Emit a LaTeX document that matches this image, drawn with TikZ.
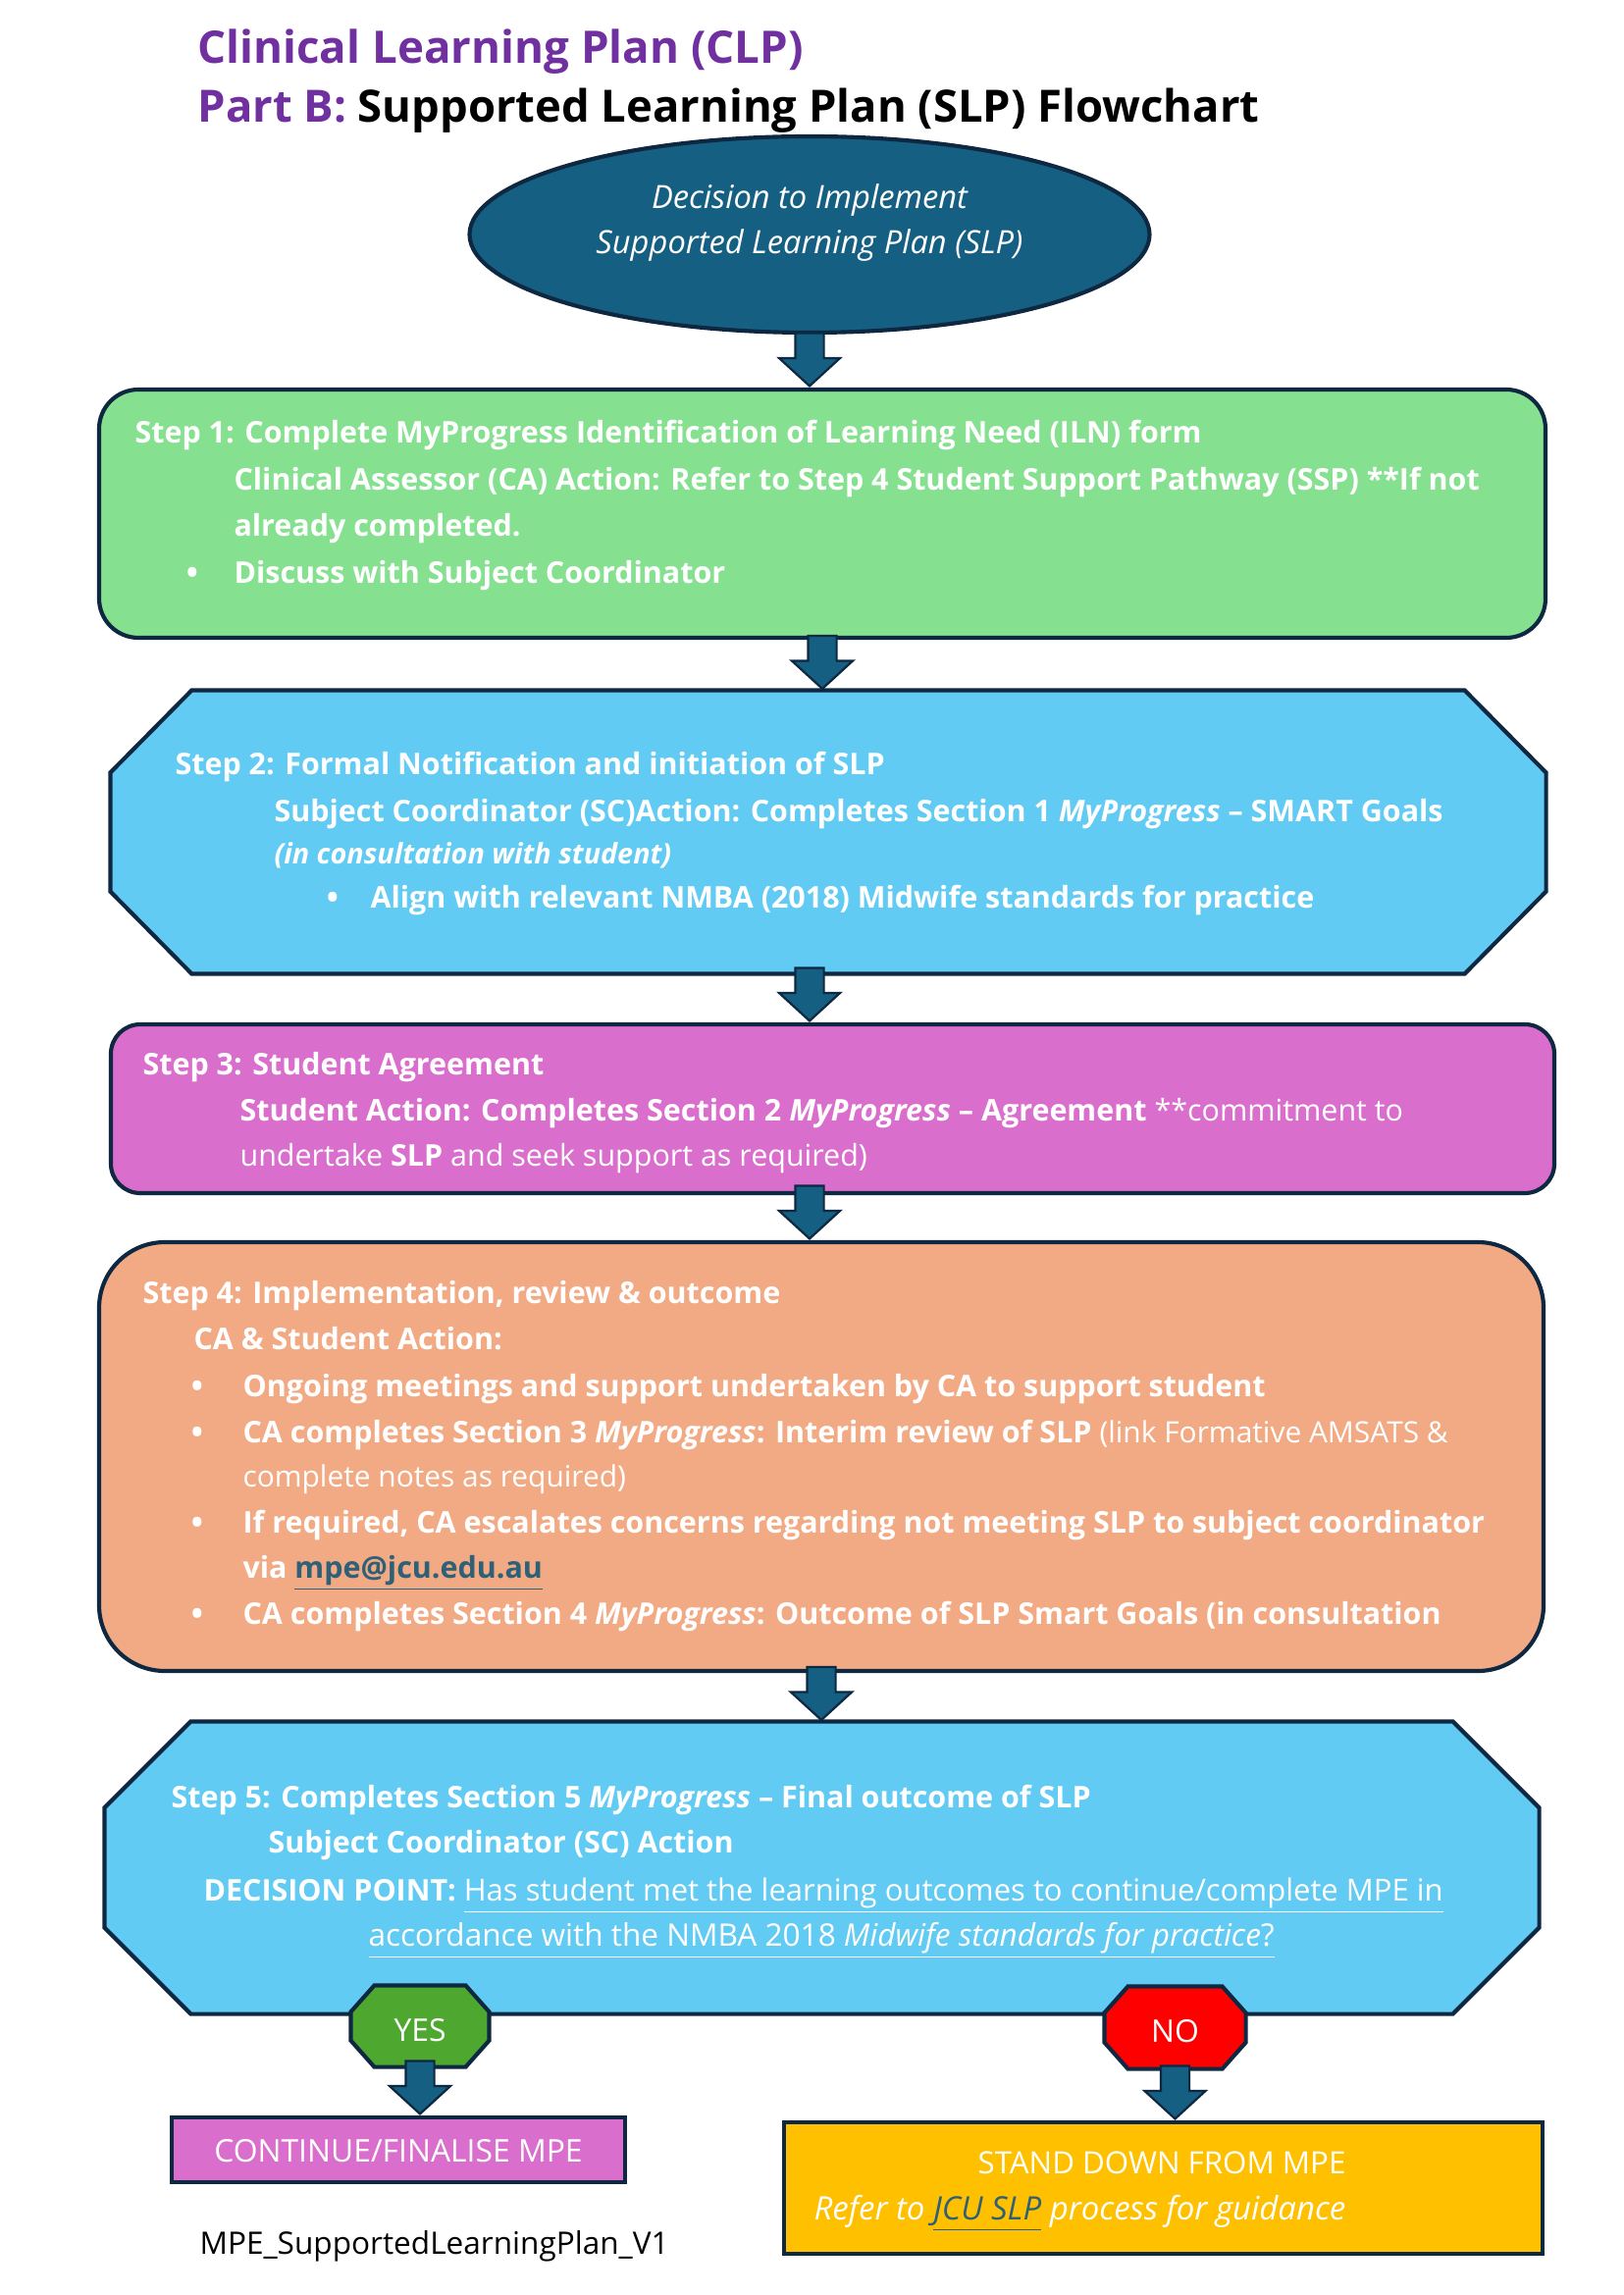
\documentclass[tikz,border=0pt]{standalone}
\usepackage{fontspec}
\setmainfont{Open Sans}
\usepackage{tikz}
\usetikzlibrary{shapes.geometric, shapes.arrows, arrows.meta, positioning, calc}
\definecolor{navyline}{RGB}{14,40,65}
\definecolor{arrowblue}{RGB}{21,96,130}
\definecolor{titlepurple}{RGB}{112,48,160}
\definecolor{stepgreen}{RGB}{133,224,143}
\definecolor{stepblue}{RGB}{97,203,243}
\definecolor{steporchid}{RGB}{217,110,205}
\definecolor{stepsalmon}{RGB}{242,170,132}
\definecolor{yesgreen}{RGB}{78,167,46}
\definecolor{nored}{RGB}{255,0,0}
\definecolor{standamber}{RGB}{255,192,0}
\definecolor{linkteal}{RGB}{46,96,119}
\newcommand{\pxu}{0.12696mm}
% octagon round a named node: node, chamfer x, chamfer y
\newcommand{\octpath}[3]{([xshift=#2]#1.north west) -- ([xshift=-#2]#1.north east) -- ([yshift=-#3]#1.north east) -- ([yshift=#3]#1.south east) -- ([xshift=-#2]#1.south east) -- ([xshift=#2]#1.south west) -- ([yshift=#3]#1.south west) -- ([yshift=-#3]#1.north west) -- cycle}
\tikzset{
  frame/.style={draw=navyline, line width=1.5pt},
  stepbox/.style={frame, inner sep=0pt},
  hidebox/.style={inner sep=0pt},
  steptxt/.style={anchor=base west, inner sep=0pt, text=white,
    font=\bfseries\fontsize{11}{13}\selectfont},
  bul/.style={steptxt, font=\fontsize{15}{16}\selectfont},
  plaintxt/.style={anchor=base, inner sep=0pt, text=white,
    font=\fontsize{11.5}{14}\selectfont},
  blockarr/.style={single arrow, draw=navyline, fill=arrowblue, line width=0.8pt,
    rotate=-90, anchor=tip, inner xsep=0pt, inner ysep=13.5*\pxu, minimum height=54*\pxu,
    single arrow head extend=16.5*\pxu, single arrow tip angle=95}
}
\begin{document}
\begin{tikzpicture}[x=0.12696mm, y=-0.12696mm]
    \useasboundingbox (0,0) rectangle (1654,2339);
    % Title
    \node[anchor=base west, inner sep=0pt, text=titlepurple, font=\bfseries\fontsize{16.5}{18}\selectfont] (title1) at (201,65) {Clinical Learning Plan (CLP)};
    \node[anchor=base west, inner sep=0pt, font=\bfseries\fontsize{16.4}{18}\selectfont] (title2) at (201,125) {\textcolor{titlepurple}{Part B:} Supported Learning Plan (SLP) Flowchart};
    % Start
    \node[ellipse, frame, fill=arrowblue, minimum width=693*\pxu, minimum height=200*\pxu, inner sep=0pt] (start) at (825,239) {};
    \node[plaintxt, font=\itshape\fontsize{11.8}{14}\selectfont] (start1) at (825,213) {Decision to Implement};
    \node[plaintxt, font=\itshape\fontsize{11.8}{14}\selectfont] (start2) at (825,259) {Supported Learning Plan (SLP)};
    % Step 1
    \node[stepbox, fill=stepgreen, rounded corners=40*\pxu, minimum width=1474*\pxu, minimum height=253*\pxu] (step1) at (838,523.5) {};
    \node[steptxt] (s1t) at (137,452) {Step 1: Complete MyProgress Identification of Learning Need (ILN) form};
    \node[steptxt] (s1a) at (238,500) {Clinical Assessor (CA) Action: Refer to Step 4 Student Support Pathway (SSP) **If not};
    \node[steptxt] (s1b) at (238,547) {already completed.};
    \node[bul] (s1d) at (188,599) {\textbullet};
    \node[steptxt] (s1c) at (238,595) {Discuss with Subject Coordinator};
    % Step 2
    \node[hidebox, minimum width=1462*\pxu, minimum height=288*\pxu] (step2) at (844,848) {};
    \draw[frame, fill=stepblue] \octpath{step2}{83*\pxu}{84*\pxu};
    \node[steptxt] (s2t) at (178,789) {Step 2: Formal Notification and initiation of SLP};
    \node[steptxt] (s2a) at (279,837) {Subject Coordinator (SC)Action: Completes Section 1 \textit{MyProgress} -- SMART Goals};
    \node[steptxt, font=\bfseries\itshape\fontsize{10.4}{12}\selectfont] (s2b) at (279,880) {(in consultation with student)};
    \node[bul] (s2d) at (331,929) {\textbullet};
    \node[steptxt] (s2c) at (377,925) {Align with relevant NMBA (2018) Midwife standards for practice};
    % Step 3
    \node[stepbox, fill=steporchid, rounded corners=30*\pxu, minimum width=1471*\pxu, minimum height=172*\pxu] (step3) at (848.5,1130) {};
    \node[steptxt] (s3t) at (145,1095) {Step 3: Student Agreement};
    \node[steptxt] (s3a) at (244,1142) {Student Action: Completes Section 2 \textit{MyProgress} -- Agreement {\mdseries **commitment to}};
    \node[steptxt] (s3b) at (244,1188) {{\mdseries undertake} SLP {\mdseries and seek support as required)}};
    % Step 4
    \node[stepbox, fill=stepsalmon, rounded corners=67*\pxu, minimum width=1472*\pxu, minimum height=437*\pxu] (step4) at (837,1484.5) {};
    \node[steptxt] (s4t) at (145,1328) {Step 4: Implementation, review \& outcome};
    \node[steptxt] (s4a) at (197,1375) {CA \& Student Action:};
    \node[steptxt] (s4b) at (247,1423) {Ongoing meetings and support undertaken by CA to support student};
    \node[steptxt] (s4c) at (247,1470) {CA completes Section 3 \textit{MyProgress}: Interim review of SLP {\mdseries\fontsize{10.8}{12}\selectfont (link Formative AMSATS \&}};
    \node[steptxt, font=\fontsize{10.8}{12}\selectfont] (s4d) at (247,1515) {complete notes as required)};
    \node[steptxt] (s4e) at (247,1562) {If required, CA escalates concerns regarding not meeting SLP to subject coordinator};
    \node[steptxt] (s4f) at (247,1608) {via \textcolor{linkteal}{\underline{mpe@jcu.edu.au}}};
    \node[steptxt] (s4g) at (247,1655) {CA completes Section 4 \textit{MyProgress}: Outcome of SLP Smart Goals (in consultation};
    \foreach \yy [count=\i] in {1427,1474,1566,1659}
      \node[bul] (s4bul\i) at (193,\yy) {\textbullet};
    % Step 5
    \node[hidebox, minimum width=1461*\pxu, minimum height=297*\pxu] (step5) at (837.5,1903.5) {};
    \draw[frame, fill=stepblue] \octpath{step5}{88*\pxu}{88*\pxu};
    \node[steptxt] (s5t) at (174,1842) {Step 5: Completes Section 5 \textit{MyProgress} -- Final outcome of SLP};
    \node[steptxt] (s5a) at (273,1888) {Subject Coordinator (SC) Action};
    \node[steptxt] (s5b) at (207,1937) {DECISION POINT: {\mdseries\fontsize{11.2}{13}\selectfont\underline{Has student met the learning outcomes to continue/complete MPE in}}};
    \node[steptxt, font=\fontsize{11.4}{13}\selectfont] (s5c) at (375,1983) {\underline{accordance with the NMBA 2018 \textit{Midwife standards for practice}?}};
    % Yes / No
    \node[hidebox, minimum width=140*\pxu, minimum height=82*\pxu] (yes) at (428,2065) {};
    \draw[frame, fill=yesgreen] \octpath{yes}{24*\pxu}{27*\pxu};
    \node[plaintxt] (yeslbl) at (428,2080) {YES};
    \node[hidebox, minimum width=143*\pxu, minimum height=83*\pxu] (no) at (1197.5,2066.5) {};
    \draw[frame, fill=nored] \octpath{no}{24*\pxu}{27*\pxu};
    \node[plaintxt] (nolbl) at (1197.5,2081) {NO};
    % Outcomes
    \node[stepbox, fill=steporchid, minimum width=462*\pxu, minimum height=66*\pxu] (cont) at (406,2191) {};
    \node[plaintxt] (contlbl) at (406,2203) {CONTINUE/FINALISE MPE};
    \node[stepbox, fill=standamber, minimum width=773*\pxu, minimum height=134*\pxu] (stand) at (1185.5,2230) {};
    \node[plaintxt, font=\fontsize{11.3}{14}\selectfont] (standlbl) at (1184,2215) {STAND DOWN FROM MPE};
    \node[plaintxt, anchor=base west, font=\itshape\fontsize{11.9}{14}\selectfont] (referlbl) at (829,2262) {Refer to \textcolor{linkteal}{\underline{JCU SLP}} process for guidance};
    \node[anchor=base west, inner sep=0pt, font=\fontsize{11.4}{14}\selectfont] (footer) at (203,2297) {MPE\_SupportedLearningPlan\_V1};
    % Arrows
    \node[blockarr] (a1) at (start.south |- step1.north) {};
    \node[blockarr] (a2) at (step1.south |- step2.north) {};
    \node[blockarr] (a3) at (start.south |- step3.north) {};
    \node[blockarr] (a4) at (start.south |- step4.north) {};
    \node[blockarr] (a5) at (step4.south |- step5.north) {};
    \node[blockarr] (ay) at (yes.south |- cont.north) {};
    \node[blockarr] (an) at (no.south |- stand.north) {};
\end{tikzpicture}
\end{document}
